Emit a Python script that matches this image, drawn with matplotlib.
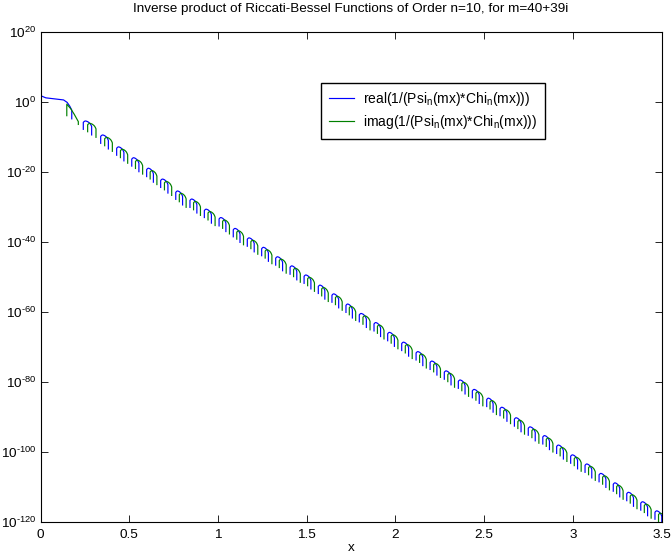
import numpy as np
import matplotlib
matplotlib.use("Agg")
import matplotlib.pyplot as plt
from matplotlib.ticker import FixedLocator, NullLocator, FixedFormatter

plt.rcParams['font.family'] = ['Liberation Sans', 'DejaVu Sans']
plt.rcParams['mathtext.fontset'] = 'custom'
plt.rcParams['mathtext.rm'] = 'Liberation Sans'
plt.rcParams['mathtext.it'] = 'Liberation Sans'
plt.rcParams['mathtext.bf'] = 'Liberation Sans'

# ---------------- data ----------------
title_text = "Inverse product of Riccati-Bessel Functions of Order n=10, for m=40+39i"
series_labels = ["real(1/(Psi$_{n}$(mx)*Chi$_{n}$(mx)))",
                 "imag(1/(Psi$_{n}$(mx)*Chi$_{n}$(mx)))"]

# smooth leading part (log10 of value)
real_head_x = [0.0, 0.002, 0.006, 0.03, 0.08, 0.13, 0.15, 0.165, 0.176, 0.176]
real_head_log = [4.0, 2.5, 1.6, 1.1, 0.8, 0.5, -0.2, -1.3, -2.4, -4.9]
imag_head_x = [0.148, 0.148, 0.17, 0.19, 0.213, 0.213]
imag_head_log = [-4.0, -0.7, -2.0, -3.6, -5.7, -6.5]

# start of every oscillation lobe (blue up-stroke) and its top (log10)
scallop_x = [0.241, 0.339, 0.429, 0.514, 0.598, 0.677, 0.762, 0.842, 0.923, 1.006,
             1.086, 1.165, 1.246, 1.325, 1.406, 1.485, 1.565, 1.642, 1.721, 1.796,
             1.879, 1.956, 2.035, 2.116, 2.195, 2.275, 2.354, 2.433, 2.514, 2.589,
             2.670, 2.748, 2.830, 2.908, 2.987, 3.068, 3.147, 3.227, 3.303, 3.382,
             3.462]
scallop_top = [-5.5, -9.5, -12.9, -16.0, -19.0, -22.1, -25.5, -27.8, -30.7, -33.1,
               -36.2, -38.9, -41.6, -44.3, -46.9, -49.5, -52.4, -54.9, -57.8, -60.5,
               -63.1, -65.9, -68.7, -71.4, -74.1, -76.9, -79.5, -82.2, -84.7, -87.3,
               -90.3, -92.9, -95.4, -98.1, -100.9, -103.5, -106.2, -108.9, -111.6, -114.3,
               -116.9]

# profile of one lobe (fraction of local period, decades below the top)
lobe_frac = [0.0, 0.0, 0.05, 0.1, 0.15, 0.25, 0.35, 0.4, 0.45, 0.48, 0.48]
lobe_drop = [-2.4, -0.4, -0.17, -0.02, -0.02, -0.2, -0.56, -0.83, -1.25, -1.6, -4.0]
imag_lag_frac = 0.25
imag_lag_drop = -0.68

xticks = [0, 0.5, 1, 1.5, 2, 2.5, 3, 3.5]
xtick_labels = ["0", "0.5", "1", "1.5", "2", "2.5", "3", "3.5"]
ytick_exp = [20, 0, -20, -40, -60, -80, -100, -120]
ytick_labels = ["10$^{%s}$" % str(e).replace("-", "\u2010") for e in ytick_exp]

blue = (0, 0, 1)
green = (0, 0.5, 0)

# ---------------- figure ----------------
fig = plt.figure(figsize=(6.72, 5.58), dpi=100)
ax = fig.add_axes([0.0603, 0.0651, 0.9244, 0.8781])
ax.set_yscale('log')

lw = 0.85
ax.plot(real_head_x, 10.0 ** np.array(real_head_log), color=blue, lw=lw,
        label=series_labels[0])
ax.plot(imag_head_x, 10.0 ** np.array(imag_head_log), color=green, lw=lw,
        label=series_labels[1])

fr = np.array(lobe_frac)
dr = np.array(lobe_drop)
for i, (x0, top) in enumerate(zip(scallop_x, scallop_top)):
    if i + 1 < len(scallop_x):
        period = scallop_x[i + 1] - x0
    else:
        period = x0 - scallop_x[i - 1]
    bx = x0 + fr * period
    by = top + dr
    ax.plot(bx, 10.0 ** by, color=blue, lw=lw)
    gx = x0 + (fr + imag_lag_frac) * period
    gy = top + imag_lag_drop + dr
    ax.plot(gx, 10.0 ** gy, color=green, lw=lw)

ax.set_xlim(0, 3.5)
ax.set_ylim(1e-120, 1e20)
ax.xaxis.set_major_locator(FixedLocator(xticks))
ax.xaxis.set_major_formatter(FixedFormatter(xtick_labels))
ax.yaxis.set_major_locator(FixedLocator([10.0 ** e for e in ytick_exp]))
ax.yaxis.set_major_formatter(FixedFormatter(ytick_labels))
ax.yaxis.set_minor_locator(NullLocator())
ax.xaxis.set_minor_locator(NullLocator())
ax.tick_params(direction='in', top=True, right=True, length=5, width=0.6,
               labelsize=9.7, colors='black')
ax.tick_params(axis='x', pad=5)
ax.tick_params(axis='y', pad=3)
for s in ax.spines.values():
    s.set_linewidth(0.8)
    s.set_color('black')

ax.set_title(title_text, fontsize=9.7, pad=14)
ax.set_xlabel("x", fontsize=9.7, labelpad=1)

leg = ax.legend(loc='upper left', bbox_to_anchor=(0.4515, 0.896), borderaxespad=0,
                fontsize=10, fancybox=False, framealpha=1, edgecolor='black',
                handlelength=1.8, handletextpad=0.7, borderpad=0.55, labelspacing=0.35)
leg.get_frame().set_linewidth(1.0)

fig.savefig("out.png", dpi=100, facecolor='white')
